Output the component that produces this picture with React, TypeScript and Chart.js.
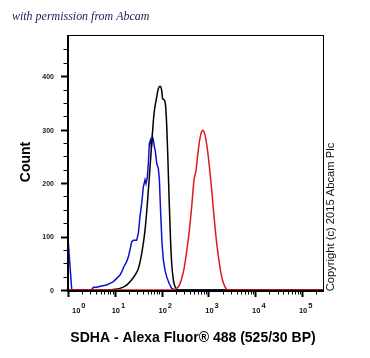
import React, { useEffect, useRef } from "react";
import { Chart, registerables } from "chart.js";

Chart.register(...registerables);

// ---- data ----
const blueX = [1, 1.2, 1.8, 3.2, 3.5, 4.1, 5.2, 6.7, 7.9, 9.3, 11, 12.9, 14, 15.7, 17.9, 19.5, 21.1, 22.9, 24.9, 29.3, 31.8, 34.5, 37.5, 40.7, 44.2, 46.4, 49.6, 52, 54.7, 57.4, 60.4, 63.4, 66.6, 70, 73.5, 78.5, 85.2, 89.5, 95.5, 102, 109, 118, 128, 144, 164, 193, 300, 280000];
const blueY = [97, 1, 0, 1, 5, 5, 7.5, 9.3, 12.5, 15.6, 21.8, 28, 34, 44, 53, 62, 75, 90, 93, 93, 106, 137, 162, 193, 206, 199, 212, 237, 274, 280, 268, 287, 280, 268, 259, 237, 227, 206, 143, 87, 56, 37, 25, 12.5, 3, 0, 0, 0];

const blackX = [1, 6.7, 9.3, 12.9, 17.9, 22.9, 27, 31.8, 37.5, 44.2, 49.6, 54.7, 61.4, 68.8, 78.5, 85.2, 92.5, 100, 105, 112.5, 120, 128, 135, 144, 154, 164, 178, 196, 228, 280000];
const blackY = [0, 0, 1, 3, 9, 19, 28, 40, 68, 112, 162, 212, 274, 330, 361, 377, 381, 374, 358, 356, 349, 311, 255, 174, 100, 50, 19, 5, 0, 0];

const redX = [1, 178, 210, 239, 269, 301, 343, 391, 439, 492, 543, 590, 640, 695, 754, 819, 889, 964, 1047, 1175, 1318, 1503, 1713, 1950, 2263, 2667, 280000];
const redY = [0, 0, 3, 9, 22, 40, 72, 112, 156, 206, 224, 252, 277, 293, 299, 294, 280, 259, 231, 187, 137, 87, 50, 22, 6, 0, 0];

const yTickLabels = [0, 100, 200, 300, 400];
const xDecades = [0, 1, 2, 3, 4, 5];
const xMin = 1;
const xMax = 280000;
const yMax = 477;

const xTitle = "SDHA - Alexa Fluor® 488 (525/30 BP)";
const yTitle = "Count";
const copyright = "Copyright (c) 2015 Abcam Plc";
const watermark = "with permission from Abcam";

const toPts = (xs: number[], ys: number[]) => xs.map((x, i) => ({ x, y: ys[i] }));

const decorPlugin = {
  id: "decor",
  afterDraw(chart: any) {
    const ctx = chart.ctx as CanvasRenderingContext2D;
    const a = chart.chartArea;
    const xs = chart.scales.x;
    const ys = chart.scales.y;
    ctx.save();
    // frame
    ctx.strokeStyle = "#000";
    ctx.lineWidth = 1;
    ctx.strokeRect(a.left + 0.5, a.top + 0.5, a.right - a.left, a.bottom - a.top);
    // thicker axes
    ctx.lineWidth = 2;
    ctx.beginPath();
    ctx.moveTo(a.left, a.top);
    ctx.lineTo(a.left, a.bottom + 1);
    ctx.lineTo(a.right + 1, a.bottom + 1);
    ctx.stroke();

    // y ticks
    for (let v = 0; v <= 450; v += 25) {
      const p = Math.round(ys.getPixelForValue(v));
      const major = v % 100 === 0;
      ctx.lineWidth = major ? 2 : 1;
      ctx.beginPath();
      ctx.moveTo(a.left - (major ? 7 : 4.5), p + 0.5);
      ctx.lineTo(a.left, p + 0.5);
      ctx.stroke();
    }
    ctx.fillStyle = "#222";
    ctx.font = "bold 7px 'Liberation Sans', Arial, sans-serif";
    ctx.textAlign = "right";
    ctx.textBaseline = "middle";
    yTickLabels.forEach((v) => {
      ctx.fillText(String(v), a.left - 14, ys.getPixelForValue(v) + 1);
    });

    // x ticks
    xDecades.forEach((k) => {
      for (let m = 1; m <= 9; m++) {
        const v = m * Math.pow(10, k);
        if (v < xMin || v > xMax) continue;
        const p = Math.round(xs.getPixelForValue(v));
        const major = m === 1;
        ctx.lineWidth = major ? 2 : 1;
        ctx.beginPath();
        ctx.moveTo(p + 0.5, a.bottom);
        ctx.lineTo(p + 0.5, a.bottom + (major ? 7 : 4.5));
        ctx.stroke();
      }
    });
    // x labels 10^k
    ctx.fillStyle = "#111";
    xDecades.forEach((k) => {
      const p = xs.getPixelForValue(Math.pow(10, k));
      ctx.font = "bold 7.5px 'Liberation Sans', Arial, sans-serif";
      ctx.textAlign = "left";
      ctx.textBaseline = "alphabetic";
      const w = ctx.measureText("10").width;
      let left = p + 1 - w / 2;
      if (left < a.left + 4) left = a.left + 4;
      ctx.fillText("10", left, 313);
      ctx.font = "bold 7.5px 'Liberation Sans', Arial, sans-serif";
      ctx.fillText(String(k), left + w + 1, 307.5);
    });

    // axis titles
    ctx.fillStyle = "#000";
    ctx.font = "bold 14px 'Liberation Sans', Arial, sans-serif";
    ctx.textAlign = "center";
    ctx.textBaseline = "middle";
    ctx.fillText(xTitle, 193, 338);

    ctx.save();
    ctx.translate(26, 162);
    ctx.rotate(-Math.PI / 2);
    ctx.font = "bold 14px 'Liberation Sans', Arial, sans-serif";
    ctx.fillText(yTitle, 0, 0);
    ctx.restore();

    // copyright
    ctx.save();
    ctx.translate(331, 217);
    ctx.rotate(-Math.PI / 2);
    ctx.fillStyle = "#111";
    ctx.font = "11.2px 'Liberation Sans', Arial, sans-serif";
    ctx.fillText(copyright, 0, 0);
    ctx.restore();

    // watermark
    ctx.save();
    ctx.fillStyle = "#1c1c55";
    ctx.font = "italic 13px 'Liberation Serif', 'DejaVu Serif', serif";
    ctx.textAlign = "left";
    ctx.textBaseline = "alphabetic";
    ctx.translate(12, 20);
    ctx.scale(0.92, 1);
    ctx.fillText(watermark, 0, 0);
    ctx.restore();
    ctx.restore();
  },
};

export default function App() {
  const ref = useRef<HTMLCanvasElement>(null);
  useEffect(() => {
    if (!ref.current) return;
    const chart = new Chart(ref.current, {
      type: "line",
      data: {
        datasets: [
          {
            label: "red",
            data: toPts(redX, redY),
            borderColor: "#e01818",
            borderWidth: 1.5,
            pointRadius: 0,
            cubicInterpolationMode: "monotone",
            order: 0,
          },
          {
            label: "black",
            data: toPts(blackX, blackY),
            borderColor: "#000000",
            borderWidth: 1.5,
            pointRadius: 0,
            cubicInterpolationMode: "monotone",
            order: 1,
          },
          {
            label: "blue",
            data: toPts(blueX, blueY),
            borderColor: "#1010d0",
            borderWidth: 1.5,
            pointRadius: 0,
            tension: 0,
            order: 2,
          },
        ],
      },
      options: {
        animation: false,
        responsive: false,
        devicePixelRatio: 1,
        layout: { padding: { left: 68, top: 35, right: 47, bottom: 68 } },
        plugins: { legend: { display: false }, tooltip: { enabled: false } },
        scales: {
          x: { type: "logarithmic", min: xMin, max: xMax, display: false },
          y: { type: "linear", min: 0, max: yMax, display: false },
        },
      },
      plugins: [decorPlugin],
    });
    return () => chart.destroy();
  }, []);
  return (
    <div style={{ position: "absolute", left: 0, top: 0, width: 370, height: 358, background: "#fff" }}>
      <canvas ref={ref} width={370} height={358} />
    </div>
  );
}
